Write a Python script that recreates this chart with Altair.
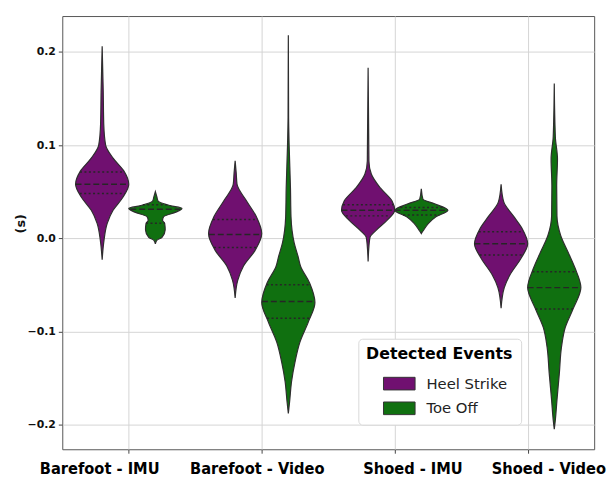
import altair as alt
import numpy as np
import pandas as pd

groups = ["Barefoot - IMU", "Barefoot - Video", "Shoed - IMU", "Shoed - Video"]
events = ["Heel Strike", "Toe Off"]
colors = ["#701070", "#107010"]

# violin outlines: y value and relative half-width (0..1)
bf_imu_hs_y = [0.206, 0.157, 0.122, 0.100, 0.086, 0.072, 0.058, 0.044, 0.030, 0.016, -0.002, -0.023]
bf_imu_hs_w = [0.0, 0.04, 0.06, 0.13, 0.41, 0.82, 1.0, 0.78, 0.41, 0.19, 0.07, 0.0]
bf_imu_to_y = [0.050, 0.044, 0.040, 0.035, 0.032, 0.028, 0.023, 0.019, 0.016, 0.009, 0.001, -0.002, -0.006]
bf_imu_to_w = [0.0, 0.06, 0.1, 0.56, 1.0, 0.77, 0.31, 0.27, 0.35, 0.37, 0.25, 0.06, 0.0]
bf_vid_hs_y = [0.083, 0.070, 0.058, 0.040, 0.023, 0.005, -0.013, -0.030, -0.045, -0.064]
bf_vid_hs_w = [0.0, 0.04, 0.07, 0.43, 0.80, 1.0, 0.75, 0.31, 0.10, 0.0]
bf_vid_to_y = [0.218, 0.130, 0.100, 0.054, 0.023, -0.005, -0.020, -0.030, -0.048, -0.069, -0.090, -0.112, -0.133, -0.154, -0.175, -0.188]
bf_vid_to_w = [0.0, 0.01, 0.03, 0.08, 0.10, 0.22, 0.37, 0.46, 0.80, 1.0, 0.75, 0.43, 0.25, 0.12, 0.05, 0.0]
sh_imu_hs_y = [0.183, 0.083, 0.069, 0.054, 0.040, 0.030, 0.019, 0.008, 0.001, -0.009, -0.025]
sh_imu_hs_w = [0.0, 0.03, 0.12, 0.46, 0.90, 1.0, 0.70, 0.28, 0.07, 0.03, 0.0]
sh_imu_to_y = [0.053, 0.042, 0.037, 0.030, 0.023, 0.016, 0.008, 0.005]
sh_imu_to_w = [0.0, 0.06, 0.50, 1.0, 0.55, 0.27, 0.07, 0.0]
sh_vid_hs_y = [0.058, 0.039, 0.024, 0.010, -0.006, -0.022, -0.039, -0.053, -0.075]
sh_vid_hs_w = [0.0, 0.10, 0.46, 0.80, 1.0, 0.74, 0.34, 0.12, 0.0]
sh_vid_to_y = [0.166, 0.109, 0.085, 0.056, 0.024, 0.003, -0.015, -0.032, -0.053, -0.075, -0.096, -0.117, -0.145, -0.174, -0.195, -0.205]
sh_vid_to_w = [0.0, 0.04, 0.12, 0.09, 0.10, 0.24, 0.52, 0.78, 1.0, 0.72, 0.41, 0.27, 0.19, 0.10, 0.04, 0.0]

# quartiles (q1, median, q3) per violin
bf_imu_hs_q = [0.048, 0.058, 0.071]
bf_imu_to_q = [0.016, 0.031, 0.036]
bf_vid_hs_q = [-0.010, 0.004, 0.020]
bf_vid_to_q = [-0.086, -0.068, -0.050]
sh_imu_hs_q = [0.024, 0.030, 0.036]
sh_imu_to_q = [0.025, 0.030, 0.033]
sh_vid_hs_q = [-0.018, -0.006, 0.007]
sh_vid_to_q = [-0.076, -0.053, -0.036]

violins = [
    (0, 0, bf_imu_hs_y, bf_imu_hs_w, bf_imu_hs_q),
    (0, 1, bf_imu_to_y, bf_imu_to_w, bf_imu_to_q),
    (1, 0, bf_vid_hs_y, bf_vid_hs_w, bf_vid_hs_q),
    (1, 1, bf_vid_to_y, bf_vid_to_w, bf_vid_to_q),
    (2, 0, sh_imu_hs_y, sh_imu_hs_w, sh_imu_hs_q),
    (2, 1, sh_imu_to_y, sh_imu_to_w, sh_imu_to_q),
    (3, 0, sh_vid_hs_y, sh_vid_hs_w, sh_vid_hs_q),
    (3, 1, sh_vid_to_y, sh_vid_to_w, sh_vid_to_q),
]

DODGE = 0.2
HALF = 0.2

shape_rows = []
quart_rows = []
for vid, (g, e, ys, ws, qs) in enumerate(violins):
    center = g + (-DODGE if e == 0 else DODGE)
    for yv, wv in zip(ys, ws):
        shape_rows.append({"vid": vid, "event": events[e], "y": yv,
                           "xl": center - HALF * wv, "xr": center + HALF * wv})
    ys_sorted = ys[::-1]
    ws_sorted = ws[::-1]
    for kind, qv in zip(["quart", "median", "quart"], qs):
        wq = float(np.interp(qv, ys_sorted, ws_sorted))
        quart_rows.append({"vid": vid, "kind": kind, "y": qv,
                           "xl": center - HALF * wq, "xr": center + HALF * wq})

shapes = pd.DataFrame(shape_rows)
quarts = pd.DataFrame(quart_rows)

xscale = alt.Scale(domain=[-0.5, 3.5], nice=False, zero=False)
yscale = alt.Scale(domain=[-0.2265, 0.2385], nice=False, zero=False)

label_expr = "[" + ",".join("'%s'" % g for g in groups) + "][datum.value]"

xaxis = alt.Axis(
    values=[0, 1, 2, 3], labelExpr=label_expr, title=None, grid=True,
    gridColor="#d4d4d4", gridWidth=1, domain=False, tickSize=4, tickColor="#444",
    labelFont="DejaVu Sans Condensed, DejaVu Sans", labelFontWeight="bold",
    labelFontSize=16.5, labelColor="#000", labelPadding=8,
    labelOffset={"condition": [
        {"test": "datum.value == 0", "value": -30},
        {"test": "datum.value == 1", "value": -5},
        {"test": "datum.value == 2", "value": 18},
        {"test": "datum.value == 3", "value": 21},
    ], "value": 0},
)
yaxis = alt.Axis(
    values=[-0.2, -0.1, 0.0, 0.1, 0.2], format=".1f", title="(s)", grid=True,
    gridColor="#d4d4d4", gridWidth=1, domain=False, tickSize=4, tickColor="#444",
    labelFont="DejaVu Sans", labelFontWeight="bold", labelFontSize=11,
    labelColor="#111", labelPadding=3,
    titleFont="DejaVu Sans", titleFontWeight="bold", titleFontSize=13,
    titleColor="#111", titleX=-42, titleY=210, titleAngle=270,
    titleAlign="center", titleBaseline="middle",
)

area = alt.Chart(shapes).mark_area(
    orient="horizontal", interpolate="monotone", stroke="#2e2e2e",
    strokeWidth=1.2, opacity=1,
).encode(
    y=alt.Y("y:Q", scale=yscale, axis=yaxis),
    x=alt.X("xl:Q", scale=xscale, axis=xaxis),
    x2="xr:Q",
    fill=alt.Fill("event:N", scale=alt.Scale(domain=events, range=colors),
                  legend=alt.Legend(title="Detected Events")),
    detail="vid:N",
)

rules = alt.Chart(quarts).mark_rule(color="#262626", strokeWidth=1.5).encode(
    y=alt.Y("y:Q", scale=yscale),
    x=alt.X("xl:Q", scale=xscale),
    x2="xr:Q",
    strokeDash=alt.StrokeDash("kind:N", scale=alt.Scale(
        domain=["median", "quart"], range=[[6, 3], [2, 2.5]]), legend=None),
    detail="vid:N",
)

chart = alt.layer(area, rules).properties(
    width=539, height=439,
    autosize=alt.AutoSizeParams(type="none"),
    padding={"left": 55, "top": 5, "right": 13, "bottom": 28},
).configure_view(
    stroke="#555555", strokeWidth=1,
).configure_legend(
    orient="none", legendX=300, legendY=327,
    fillColor="white", strokeColor="#d8d8d8", cornerRadius=4, padding=8,
    titleFont="DejaVu Sans", titleFontWeight="bold", titleFontSize=16,
    titleColor="#000", titleAnchor="middle", titlePadding=5,
    labelFont="DejaVu Sans", labelFontSize=15, labelColor="#222",
    symbolType="M-1,-0.4H1V0.4H-1Z", symbolSize=1024, symbolOffset=12,
    symbolStrokeColor="#333", symbolStrokeWidth=1, symbolOpacity=1,
    labelOffset=11, rowPadding=0,
)

chart.save("out.html", embed_options={"renderer": "svg", "actions": False})
